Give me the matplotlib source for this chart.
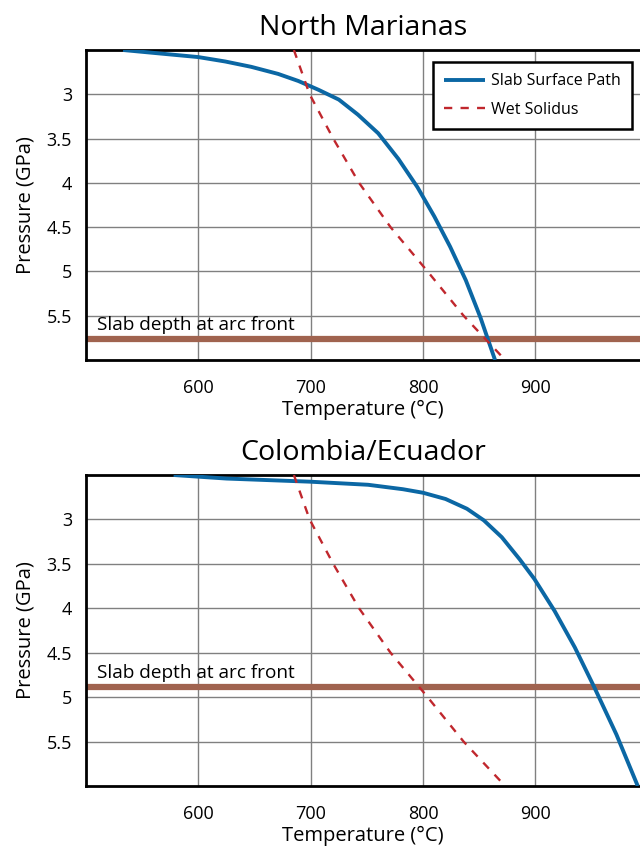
import matplotlib.pyplot as plt

plt.rcParams["font.family"] = ["Open Sans", "DejaVu Sans"]

# Slab surface paths (temperature in °C, pressure in GPa)
marianas_T = [533, 558, 600, 624, 647, 671, 689, 707, 725, 742, 760, 778,
              795, 810, 824, 838, 851, 864]
marianas_P = [2.50, 2.53, 2.58, 2.63, 2.69, 2.77, 2.85, 2.95, 3.06, 3.23, 3.44,
              3.73, 4.05, 4.38, 4.72, 5.10, 5.52, 6.00]

colombia_T = [578, 625, 699, 751, 782, 800, 820, 839, 854, 870, 886, 899,
              917, 935, 952, 972, 991]
colombia_P = [2.50, 2.54, 2.575, 2.61, 2.66, 2.70, 2.77, 2.88, 3.01, 3.20, 3.45,
              3.67, 4.03, 4.44, 4.88, 5.42, 6.00]

# Wet solidus (same in both panels)
solidus_T = [685, 699, 720, 743, 771, 804, 836, 873]
solidus_P = [2.50, 3.00, 3.50, 4.00, 4.50, 5.00, 5.50, 6.00]

# Slab depth at arc front
slab_depth = {"North Marianas": 5.76, "Colombia/Ecuador": 4.89}

panels = [
    ("North Marianas", marianas_T, marianas_P),
    ("Colombia/Ecuador", colombia_T, colombia_P),
]

blue = "#0b67a4"
red = "#c0272d"
brown = "#a0634f"

fig = plt.figure(figsize=(6.4, 8.51), dpi=100)
positions = [
    [86 / 640, 1 - 360 / 851, 554 / 640, 310 / 851],
    [86 / 640, 1 - 786 / 851, 554 / 640, 311 / 851],
]

for pos, (name, T, P) in zip(positions, panels):
    ax = fig.add_axes(pos)
    ax.grid(True, color="#808080", linewidth=1.0, zorder=0)
    ax.axhline(slab_depth[name], color=brown, linewidth=4.5, zorder=2)
    ax.text(510, slab_depth[name] - 0.055, "Slab depth at arc front",
            fontsize=13.7, va="bottom", ha="left", zorder=3)
    ax.plot(T, P, color=blue, linewidth=2.8, label="Slab Surface Path", zorder=4,
            solid_capstyle="butt", solid_joinstyle="round")
    ax.plot(solidus_T, solidus_P, color=red, linewidth=1.7,
            linestyle=(0, (3.5, 3.5)), label="Wet Solidus", zorder=4)

    ax.set_xlim(500, 993)
    ax.set_ylim(6.0, 2.5)
    ax.set_xticks([600, 700, 800, 900])
    ax.set_yticks([3, 3.5, 4, 4.5, 5, 5.5])
    ax.set_yticklabels(["3", "3.5", "4", "4.5", "5", "5.5"])
    ax.tick_params(length=0, labelsize=13)
    ax.tick_params(axis="x", pad=14)
    ax.tick_params(axis="y", pad=10)
    ax.set_xlabel("Temperature (°C)", fontsize=14.5, labelpad=2)
    ax.set_ylabel("Pressure (GPa)", fontsize=14.5, labelpad=8)
    ax.set_title(name, fontsize=20.5, pad=11)
    for side in ["top", "bottom", "left"]:
        ax.spines[side].set_linewidth(2)
        ax.spines[side].set_color("black")
    ax.spines["right"].set_visible(False)

    if name == "North Marianas":
        leg = ax.legend(loc="upper right",
                        bbox_to_anchor=((632 - 86) / 554, 1 - (62 - 50) / 310),
                        borderaxespad=0, fontsize=11.5, fancybox=False,
                        framealpha=1, handlelength=2.6, handletextpad=0.35,
                        labelspacing=0.8, borderpad=0.7)
        leg.get_frame().set_edgecolor("black")
        leg.get_frame().set_linewidth(1.8)

fig.savefig("out.png", dpi=100)
